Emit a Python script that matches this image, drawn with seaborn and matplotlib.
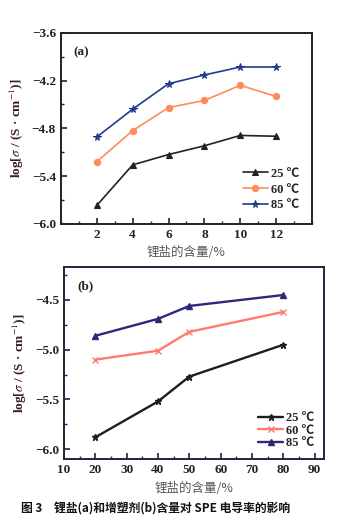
import matplotlib
matplotlib.use("Agg")
import matplotlib.pyplot as plt
import seaborn as sns
import pandas as pd
from matplotlib.ticker import MultipleLocator

# ---- data ----
temps = ["25 ℃", "60 ℃", "85 ℃"]
salt_x = [2, 4, 6, 8, 10, 12]
salt_25 = [-5.77, -5.26, -5.13, -5.02, -4.89, -4.90]
salt_60 = [-5.22, -4.83, -4.54, -4.45, -4.26, -4.40]
salt_85 = [-4.91, -4.56, -4.24, -4.13, -4.03, -4.03]

plast_x = [20, 40, 50, 80]
plast_25 = [-5.88, -5.52, -5.27, -4.95]
plast_60 = [-5.10, -5.01, -4.82, -4.62]
plast_85 = [-4.86, -4.69, -4.56, -4.45]

yticks_a = [-6.0, -5.4, -4.8, -4.2, -3.6]
xticks_a = [2, 4, 6, 8, 10, 12]
yticks_b = [-6.0, -5.5, -5.0, -4.5]
xticks_b = [10, 20, 30, 40, 50, 60, 70, 80, 90]

xlabel = "锂盐的含量/%"
ylabel = r"log[$\sigma$ / (S · cm$^{-1}$)]"
caption = "图 3　锂盐(a)和增塑剂(b)含量对 SPE 电导率的影响"

sns.set_theme(style="ticks")
plt.rcParams["font.family"] = ["Liberation Serif", "Noto Sans CJK SC"]
plt.rcParams["mathtext.fontset"] = "stix"

serif = ["Liberation Serif", "Noto Sans CJK SC"]

fig = plt.figure(figsize=(3.44, 5.29), dpi=100)
ax_a = fig.add_axes([0.177, 0.577, 0.730, 0.361])
ax_b = fig.add_axes([0.186, 0.132, 0.756, 0.363])

df_a = pd.DataFrame({
    "x": salt_x * 3,
    "y": salt_25 + salt_60 + salt_85,
    "T": [temps[0]] * 6 + [temps[1]] * 6 + [temps[2]] * 6,
})
df_b = pd.DataFrame({
    "x": plast_x * 3,
    "y": plast_25 + plast_60 + plast_85,
    "T": [temps[0]] * 4 + [temps[1]] * 4 + [temps[2]] * 4,
})

pal_a = {temps[0]: "#222222", temps[1]: "#ff8a5a", temps[2]: "#1f3c8c"}
mk_a = {temps[0]: "^", temps[1]: "o", temps[2]: "*"}
ms_a = {temps[0]: 4.5, temps[1]: 4.5, temps[2]: 5.5}
pal_b = {temps[0]: "#1e1e1e", temps[1]: "#ff7a70", temps[2]: "#2b2a7a"}
mk_b = {temps[0]: "*", temps[1]: "x", temps[2]: "^"}
ms_b = {temps[0]: 5.0, temps[1]: 4.0, temps[2]: 4.5}

for t in temps:
    sub = df_a[df_a["T"] == t]
    sns.lineplot(data=sub, x="x", y="y", ax=ax_a, color=pal_a[t], marker=mk_a[t],
                 markersize=ms_a[t], markeredgecolor=pal_a[t], markeredgewidth=0.8,
                 linewidth=1.2, label=t)
for t in temps:
    sub = df_b[df_b["T"] == t]
    sns.lineplot(data=sub, x="x", y="y", ax=ax_b, color=pal_b[t], marker=mk_b[t],
                 markersize=ms_b[t], markeredgecolor=pal_b[t], markeredgewidth=1.0,
                 linewidth=1.7, label=t)

# panel (a)
ax_a.set_xlim(0, 14)
ax_a.set_ylim(-6.0, -3.6)
ax_a.set_xticks(xticks_a)
ax_a.set_yticks(yticks_a)
ax_a.set_yticklabels([f"{v:.1f}".replace("-", "\u2212") for v in yticks_a])
ax_a.xaxis.set_minor_locator(MultipleLocator(1))
ax_a.yaxis.set_minor_locator(MultipleLocator(0.3))

# panel (b)
ax_b.set_xlim(10, 93)
ax_b.set_ylim(-6.1, -4.17)
ax_b.set_xticks(xticks_b)
ax_b.set_yticks(yticks_b)
ax_b.set_yticklabels([f"{v:.1f}".replace("-", "\u2212") for v in yticks_b])
ax_b.xaxis.set_minor_locator(MultipleLocator(5))
ax_b.yaxis.set_minor_locator(MultipleLocator(0.25))

for ax, tag, spc in [(ax_a, "(a)", "#222222"), (ax_b, "(b)", "#2a2040")]:
    for s in ax.spines.values():
        s.set_linewidth(1.4)
        s.set_color(spc)
    ax.tick_params(axis="both", which="both", direction="in", colors=spc)
    ax.tick_params(axis="both", which="major", length=4, width=1.2)
    ax.tick_params(axis="both", which="minor", length=2.5, width=1.0)
    for lab in ax.get_xticklabels() + ax.get_yticklabels():
        lab.set_fontfamily(serif)
        lab.set_fontweight("bold")
        lab.set_fontsize(9.5)
        lab.set_color("#222222")
    ax.set_xlabel(xlabel, family=["Noto Sans CJK SC"], fontsize=9, color="#555555", labelpad=4)
    ax.set_ylabel(ylabel, family=serif, fontsize=9.5, fontweight="bold",
                  color="#3a1a2a", labelpad=4)
    ax.text(0.05, 0.93, tag, transform=ax.transAxes, family=serif, fontweight="bold",
            fontsize=9.5, va="top", ha="left", color="#222222")

leg_a = ax_a.legend(loc="lower right", frameon=False, handlelength=2.0,
                    handletextpad=0.3, labelspacing=0.3, borderaxespad=0.6,
                    prop={"family": serif, "weight": "bold", "size": 9})
leg_b = ax_b.legend(loc="lower right", frameon=False, handlelength=2.0,
                    handletextpad=0.2, labelspacing=0.05, borderaxespad=0.4,
                    prop={"family": serif, "weight": "bold", "size": 9})

fig.text(0.06, 0.028, caption, family=["Noto Sans CJK SC"], fontweight="bold",
         fontsize=8.5, color="#111111", ha="left", va="bottom")

fig.savefig("out.png", dpi=100)
